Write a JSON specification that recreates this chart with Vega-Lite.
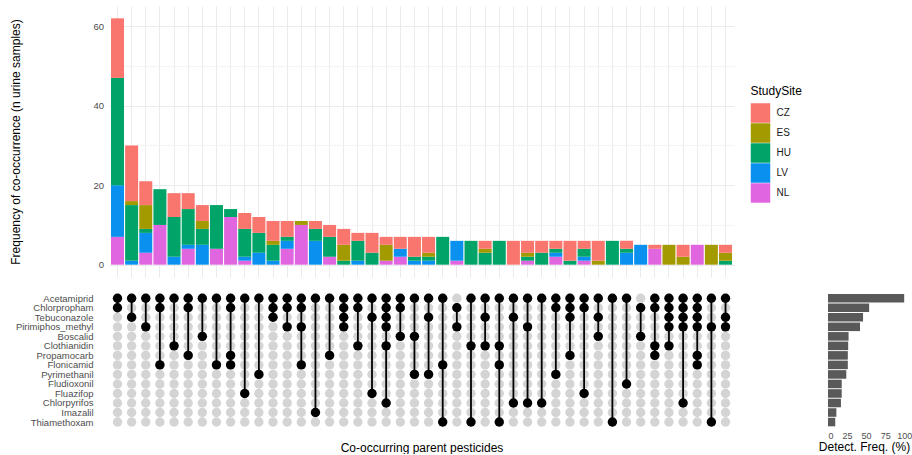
{
  "$schema": "https://vega.github.io/schema/vega-lite/v6.json",
  "padding": {"left": 9, "top": 6, "right": 0, "bottom": 0},
  "background": "white",
  "config": {"font": "Liberation Sans", "view": {"stroke": null}},
  "datasets": {
    "bars": [
      {"combo": "01", "site": "NL", "n": 7}, {"combo": "01", "site": "LV", "n": 13}, {"combo": "01", "site": "HU", "n": 27}, {"combo": "01", "site": "CZ", "n": 15},
      {"combo": "02", "site": "LV", "n": 1}, {"combo": "02", "site": "HU", "n": 14}, {"combo": "02", "site": "ES", "n": 1}, {"combo": "02", "site": "CZ", "n": 14},
      {"combo": "03", "site": "NL", "n": 3}, {"combo": "03", "site": "LV", "n": 5}, {"combo": "03", "site": "HU", "n": 1}, {"combo": "03", "site": "ES", "n": 6}, {"combo": "03", "site": "CZ", "n": 6},
      {"combo": "04", "site": "NL", "n": 10}, {"combo": "04", "site": "HU", "n": 9},
      {"combo": "05", "site": "LV", "n": 2}, {"combo": "05", "site": "HU", "n": 10}, {"combo": "05", "site": "CZ", "n": 6},
      {"combo": "06", "site": "NL", "n": 4}, {"combo": "06", "site": "LV", "n": 1}, {"combo": "06", "site": "HU", "n": 9}, {"combo": "06", "site": "CZ", "n": 4},
      {"combo": "07", "site": "LV", "n": 5}, {"combo": "07", "site": "HU", "n": 4}, {"combo": "07", "site": "ES", "n": 2}, {"combo": "07", "site": "CZ", "n": 4},
      {"combo": "08", "site": "NL", "n": 4}, {"combo": "08", "site": "HU", "n": 11},
      {"combo": "09", "site": "NL", "n": 12}, {"combo": "09", "site": "HU", "n": 2},
      {"combo": "10", "site": "NL", "n": 1}, {"combo": "10", "site": "LV", "n": 1}, {"combo": "10", "site": "HU", "n": 7}, {"combo": "10", "site": "CZ", "n": 4},
      {"combo": "11", "site": "LV", "n": 3}, {"combo": "11", "site": "HU", "n": 5}, {"combo": "11", "site": "CZ", "n": 4},
      {"combo": "12", "site": "LV", "n": 1}, {"combo": "12", "site": "HU", "n": 4}, {"combo": "12", "site": "ES", "n": 1}, {"combo": "12", "site": "CZ", "n": 5},
      {"combo": "13", "site": "NL", "n": 4}, {"combo": "13", "site": "LV", "n": 2}, {"combo": "13", "site": "HU", "n": 1}, {"combo": "13", "site": "CZ", "n": 4},
      {"combo": "14", "site": "NL", "n": 10}, {"combo": "14", "site": "ES", "n": 1},
      {"combo": "15", "site": "LV", "n": 6}, {"combo": "15", "site": "HU", "n": 3}, {"combo": "15", "site": "CZ", "n": 2},
      {"combo": "16", "site": "NL", "n": 2}, {"combo": "16", "site": "HU", "n": 5}, {"combo": "16", "site": "CZ", "n": 3},
      {"combo": "17", "site": "HU", "n": 1}, {"combo": "17", "site": "ES", "n": 4}, {"combo": "17", "site": "CZ", "n": 4},
      {"combo": "18", "site": "LV", "n": 1}, {"combo": "18", "site": "HU", "n": 5}, {"combo": "18", "site": "CZ", "n": 2},
      {"combo": "19", "site": "HU", "n": 3}, {"combo": "19", "site": "CZ", "n": 5},
      {"combo": "20", "site": "NL", "n": 1}, {"combo": "20", "site": "ES", "n": 4}, {"combo": "20", "site": "CZ", "n": 2},
      {"combo": "21", "site": "NL", "n": 2}, {"combo": "21", "site": "LV", "n": 2}, {"combo": "21", "site": "CZ", "n": 3},
      {"combo": "22", "site": "LV", "n": 1}, {"combo": "22", "site": "HU", "n": 1}, {"combo": "22", "site": "CZ", "n": 5},
      {"combo": "23", "site": "LV", "n": 1}, {"combo": "23", "site": "HU", "n": 1}, {"combo": "23", "site": "ES", "n": 1}, {"combo": "23", "site": "CZ", "n": 4},
      {"combo": "24", "site": "HU", "n": 7},
      {"combo": "25", "site": "NL", "n": 1}, {"combo": "25", "site": "LV", "n": 5},
      {"combo": "26", "site": "HU", "n": 6},
      {"combo": "27", "site": "HU", "n": 3}, {"combo": "27", "site": "ES", "n": 1}, {"combo": "27", "site": "CZ", "n": 2},
      {"combo": "28", "site": "HU", "n": 6},
      {"combo": "29", "site": "CZ", "n": 6},
      {"combo": "30", "site": "NL", "n": 1}, {"combo": "30", "site": "HU", "n": 1}, {"combo": "30", "site": "ES", "n": 1}, {"combo": "30", "site": "CZ", "n": 3},
      {"combo": "31", "site": "HU", "n": 3}, {"combo": "31", "site": "CZ", "n": 3},
      {"combo": "32", "site": "NL", "n": 2}, {"combo": "32", "site": "LV", "n": 1}, {"combo": "32", "site": "HU", "n": 1}, {"combo": "32", "site": "CZ", "n": 2},
      {"combo": "33", "site": "HU", "n": 1}, {"combo": "33", "site": "CZ", "n": 5},
      {"combo": "34", "site": "NL", "n": 1}, {"combo": "34", "site": "LV", "n": 1}, {"combo": "34", "site": "HU", "n": 2}, {"combo": "34", "site": "CZ", "n": 2},
      {"combo": "35", "site": "ES", "n": 1}, {"combo": "35", "site": "CZ", "n": 5},
      {"combo": "36", "site": "HU", "n": 6},
      {"combo": "37", "site": "LV", "n": 3}, {"combo": "37", "site": "HU", "n": 1}, {"combo": "37", "site": "CZ", "n": 2},
      {"combo": "38", "site": "LV", "n": 5},
      {"combo": "39", "site": "NL", "n": 4}, {"combo": "39", "site": "CZ", "n": 1},
      {"combo": "40", "site": "ES", "n": 5},
      {"combo": "41", "site": "ES", "n": 2}, {"combo": "41", "site": "CZ", "n": 3},
      {"combo": "42", "site": "NL", "n": 5},
      {"combo": "43", "site": "ES", "n": 5},
      {"combo": "44", "site": "HU", "n": 1}, {"combo": "44", "site": "ES", "n": 2}, {"combo": "44", "site": "CZ", "n": 2}
    ],
    "members": [
      {"combo": "01", "Acetamiprid": 1, "Chlorpropham": 1},
      {"combo": "02", "Acetamiprid": 1, "Tebuconazole": 1},
      {"combo": "03", "Acetamiprid": 1, "Pirimiphos_methyl": 1},
      {"combo": "04", "Acetamiprid": 1, "Chlorpropham": 1, "Flonicamid": 1},
      {"combo": "05", "Acetamiprid": 1, "Clothianidin": 1},
      {"combo": "06", "Acetamiprid": 1, "Chlorpropham": 1, "Propamocarb": 1},
      {"combo": "07", "Acetamiprid": 1, "Boscalid": 1},
      {"combo": "08", "Acetamiprid": 1, "Flonicamid": 1},
      {"combo": "09", "Acetamiprid": 1, "Chlorpropham": 1, "Propamocarb": 1, "Flonicamid": 1},
      {"combo": "10", "Acetamiprid": 1, "Fluazifop": 1},
      {"combo": "11", "Acetamiprid": 1, "Pyrimethanil": 1},
      {"combo": "12", "Acetamiprid": 1, "Chlorpropham": 1, "Tebuconazole": 1},
      {"combo": "13", "Acetamiprid": 1, "Chlorpropham": 1, "Pirimiphos_methyl": 1},
      {"combo": "14", "Acetamiprid": 1, "Chlorpropham": 1, "Pirimiphos_methyl": 1, "Flonicamid": 1},
      {"combo": "15", "Acetamiprid": 1, "Imazalil": 1},
      {"combo": "16", "Acetamiprid": 1, "Propamocarb": 1},
      {"combo": "17", "Acetamiprid": 1, "Chlorpropham": 1, "Tebuconazole": 1, "Pirimiphos_methyl": 1},
      {"combo": "18", "Acetamiprid": 1, "Chlorpropham": 1, "Clothianidin": 1},
      {"combo": "19", "Acetamiprid": 1, "Tebuconazole": 1, "Fluazifop": 1},
      {"combo": "20", "Acetamiprid": 1, "Chlorpropham": 1, "Tebuconazole": 1, "Pirimiphos_methyl": 1, "Clothianidin": 1, "Chlorpyrifos": 1},
      {"combo": "21", "Acetamiprid": 1, "Chlorpropham": 1, "Boscalid": 1},
      {"combo": "22", "Acetamiprid": 1, "Boscalid": 1, "Pyrimethanil": 1},
      {"combo": "23", "Acetamiprid": 1, "Tebuconazole": 1, "Pyrimethanil": 1},
      {"combo": "24", "Acetamiprid": 1, "Flonicamid": 1, "Thiamethoxam": 1},
      {"combo": "25", "Chlorpropham": 1, "Pirimiphos_methyl": 1},
      {"combo": "26", "Acetamiprid": 1, "Clothianidin": 1, "Thiamethoxam": 1},
      {"combo": "27", "Acetamiprid": 1, "Tebuconazole": 1, "Clothianidin": 1},
      {"combo": "28", "Acetamiprid": 1, "Clothianidin": 1, "Flonicamid": 1, "Thiamethoxam": 1},
      {"combo": "29", "Acetamiprid": 1, "Tebuconazole": 1, "Chlorpyrifos": 1},
      {"combo": "30", "Acetamiprid": 1, "Pirimiphos_methyl": 1, "Chlorpyrifos": 1},
      {"combo": "31", "Acetamiprid": 1, "Chlorpyrifos": 1},
      {"combo": "32", "Acetamiprid": 1, "Chlorpropham": 1, "Pyrimethanil": 1},
      {"combo": "33", "Acetamiprid": 1, "Chlorpropham": 1, "Tebuconazole": 1, "Propamocarb": 1},
      {"combo": "34", "Acetamiprid": 1, "Chlorpropham": 1, "Fluazifop": 1},
      {"combo": "35", "Acetamiprid": 1, "Tebuconazole": 1, "Boscalid": 1},
      {"combo": "36", "Acetamiprid": 1, "Thiamethoxam": 1},
      {"combo": "37", "Acetamiprid": 1, "Fludioxonil": 1},
      {"combo": "38", "Chlorpropham": 1, "Boscalid": 1},
      {"combo": "39", "Acetamiprid": 1, "Chlorpropham": 1, "Clothianidin": 1, "Propamocarb": 1},
      {"combo": "40", "Acetamiprid": 1, "Chlorpropham": 1, "Tebuconazole": 1, "Pirimiphos_methyl": 1, "Clothianidin": 1},
      {"combo": "41", "Acetamiprid": 1, "Chlorpropham": 1, "Tebuconazole": 1, "Pirimiphos_methyl": 1, "Chlorpyrifos": 1},
      {"combo": "42", "Acetamiprid": 1, "Chlorpropham": 1, "Tebuconazole": 1, "Pirimiphos_methyl": 1, "Propamocarb": 1, "Flonicamid": 1},
      {"combo": "43", "Acetamiprid": 1, "Pirimiphos_methyl": 1, "Thiamethoxam": 1},
      {"combo": "44", "Acetamiprid": 1, "Tebuconazole": 1, "Pirimiphos_methyl": 1}
    ],
    "freq": [
      {"set": "Acetamiprid", "freq": 100},
      {"set": "Chlorpropham", "freq": 54},
      {"set": "Tebuconazole", "freq": 46},
      {"set": "Pirimiphos_methyl", "freq": 42},
      {"set": "Boscalid", "freq": 27},
      {"set": "Clothianidin", "freq": 26.5},
      {"set": "Propamocarb", "freq": 26},
      {"set": "Flonicamid", "freq": 26},
      {"set": "Pyrimethanil", "freq": 24},
      {"set": "Fludioxonil", "freq": 18},
      {"set": "Fluazifop", "freq": 18},
      {"set": "Chlorpyrifos", "freq": 17},
      {"set": "Imazalil", "freq": 11},
      {"set": "Thiamethoxam", "freq": 9.5}
    ]
  },
  "columns": 2,
  "align": "each",
  "spacing": {"row": 15.5, "column": 15},
  "resolve": {"scale": {"color": "independent", "x": "independent", "y": "independent"}},
  "concat": [
    {
      "width": 625,
      "height": 271,
      "data": {"name": "bars"},
      "mark": {"type": "bar"},
      "encoding": {
        "x": {
          "field": "combo", "type": "nominal", "sort": "ascending",
          "scale": {"paddingInner": 0.08, "paddingOuter": 0.14},
          "axis": {"title": null, "labels": false, "ticks": false, "domain": false, "grid": true, "gridColor": "#EBEBEB", "gridWidth": 1}
        },
        "y": {
          "field": "n", "type": "quantitative", "aggregate": "sum", "stack": "zero",
          "scale": {"domain": [-3.1, 65.1], "nice": false, "zero": false},
          "axis": {
            "values": [0, 10, 20, 30, 40, 50, 60],
            "labelExpr": "datum.value % 20 === 0 ? datum.label : ''",
            "gridColor": {"condition": {"test": "datum.value % 20 === 0", "value": "#EBEBEB"}, "value": "#F4F4F4"},
            "domain": false, "ticks": false, "tickSize": 0, "labelPadding": 5.5,
            "labelFontSize": 9.5, "labelColor": "#4D4D4D",
            "title": "Frequency of co-occurrence (n urine samples)",
            "titleFontSize": 12, "titleFontWeight": "normal", "titleColor": "#000000", "titlePadding": 70.5
          }
        },
        "color": {
          "field": "site", "type": "nominal",
          "scale": {"domain": ["CZ", "ES", "HU", "LV", "NL"], "range": ["#F8766D", "#A39A00", "#00A368", "#0A91F0", "#E066E0"]},
          "legend": {
            "title": "StudySite", "orient": "none", "legendX": 641.5, "legendY": 80,
            "symbolType": "square", "symbolSize": 380, "symbolStrokeWidth": 0, "symbolOpacity": 1,
            "rowPadding": 0, "labelFontSize": 10, "labelColor": "#1A1A1A", "labelOffset": 6,
            "titleFontSize": 12, "titleFontWeight": "normal", "titleColor": "#000000", "titlePadding": 5
          }
        },
        "order": {"field": "site", "sort": "descending"}
      }
    },
    {
      "width": 1,
      "height": 1,
      "data": {"values": [{"k": 0}]},
      "mark": {"type": "point", "opacity": 0, "size": 1},
      "encoding": {}
    },
    {
      "width": 625,
      "height": 133.3,
      "data": {"name": "members"},
      "transform": [
        {"fold": ["Acetamiprid", "Chlorpropham", "Tebuconazole", "Pirimiphos_methyl", "Boscalid", "Clothianidin", "Propamocarb", "Flonicamid", "Pyrimethanil", "Fludioxonil", "Fluazifop", "Chlorpyrifos", "Imazalil", "Thiamethoxam"], "as": ["set", "value"]}
      ],
      "encoding": {
        "x": {
          "field": "combo", "type": "nominal", "sort": "ascending",
          "scale": {"type": "point", "padding": 0.6},
          "axis": {"title": "Co-occurring parent pesticides", "labels": false, "ticks": false, "domain": false, "grid": false,
                   "titleFontSize": 12, "titleFontWeight": "normal", "titleColor": "#000000", "titlePadding": 16}
        },
        "y": {
          "field": "set", "type": "nominal",
          "scale": {"type": "point", "padding": 0.5, "domain": ["Acetamiprid", "Chlorpropham", "Tebuconazole", "Pirimiphos_methyl", "Boscalid", "Clothianidin", "Propamocarb", "Flonicamid", "Pyrimethanil", "Fludioxonil", "Fluazifop", "Chlorpyrifos", "Imazalil", "Thiamethoxam"]},
          "axis": {"title": null, "ticks": false, "tickSize": 0, "domain": false, "grid": false, "labelPadding": 16, "labelFontSize": 9.5, "labelColor": "#4D4D4D"}
        }
      },
      "layer": [
        {"mark": {"type": "point", "filled": true, "size": 88, "color": "#D4D4D4", "opacity": 1}},
        {"transform": [{"filter": "datum.value === 1"}], "mark": {"type": "line", "color": "#000000", "strokeWidth": 1.8}, "encoding": {"detail": {"field": "combo"}}},
        {"transform": [{"filter": "datum.value === 1"}], "mark": {"type": "point", "filled": true, "size": 88, "color": "#000000", "opacity": 1}}
      ]
    },
    {
      "width": 80,
      "height": 133.3,
      "data": {"name": "freq"},
      "mark": {"type": "bar", "color": "#595959"},
      "encoding": {
        "y": {
          "field": "set", "type": "nominal",
          "scale": {"domain": ["Acetamiprid", "Chlorpropham", "Tebuconazole", "Pirimiphos_methyl", "Boscalid", "Clothianidin", "Propamocarb", "Flonicamid", "Pyrimethanil", "Fludioxonil", "Fluazifop", "Chlorpyrifos", "Imazalil", "Thiamethoxam"], "paddingInner": 0.1, "paddingOuter": 0.05},
          "axis": null
        },
        "x": {
          "field": "freq", "type": "quantitative",
          "scale": {"domain": [0, 105], "nice": false},
          "axis": {"values": [0, 25, 50, 75, 100], "grid": false, "ticks": false, "tickSize": 0, "domain": false,
                   "labelFontSize": 9, "labelColor": "#4D4D4D", "labelPadding": 5,
                   "title": "Detect. Freq. (%)", "titleFontSize": 12, "titleFontWeight": "normal", "titleColor": "#000000", "titlePadding": 1,
                   "titleX": 36}
        }
      }
    }
  ]
}
